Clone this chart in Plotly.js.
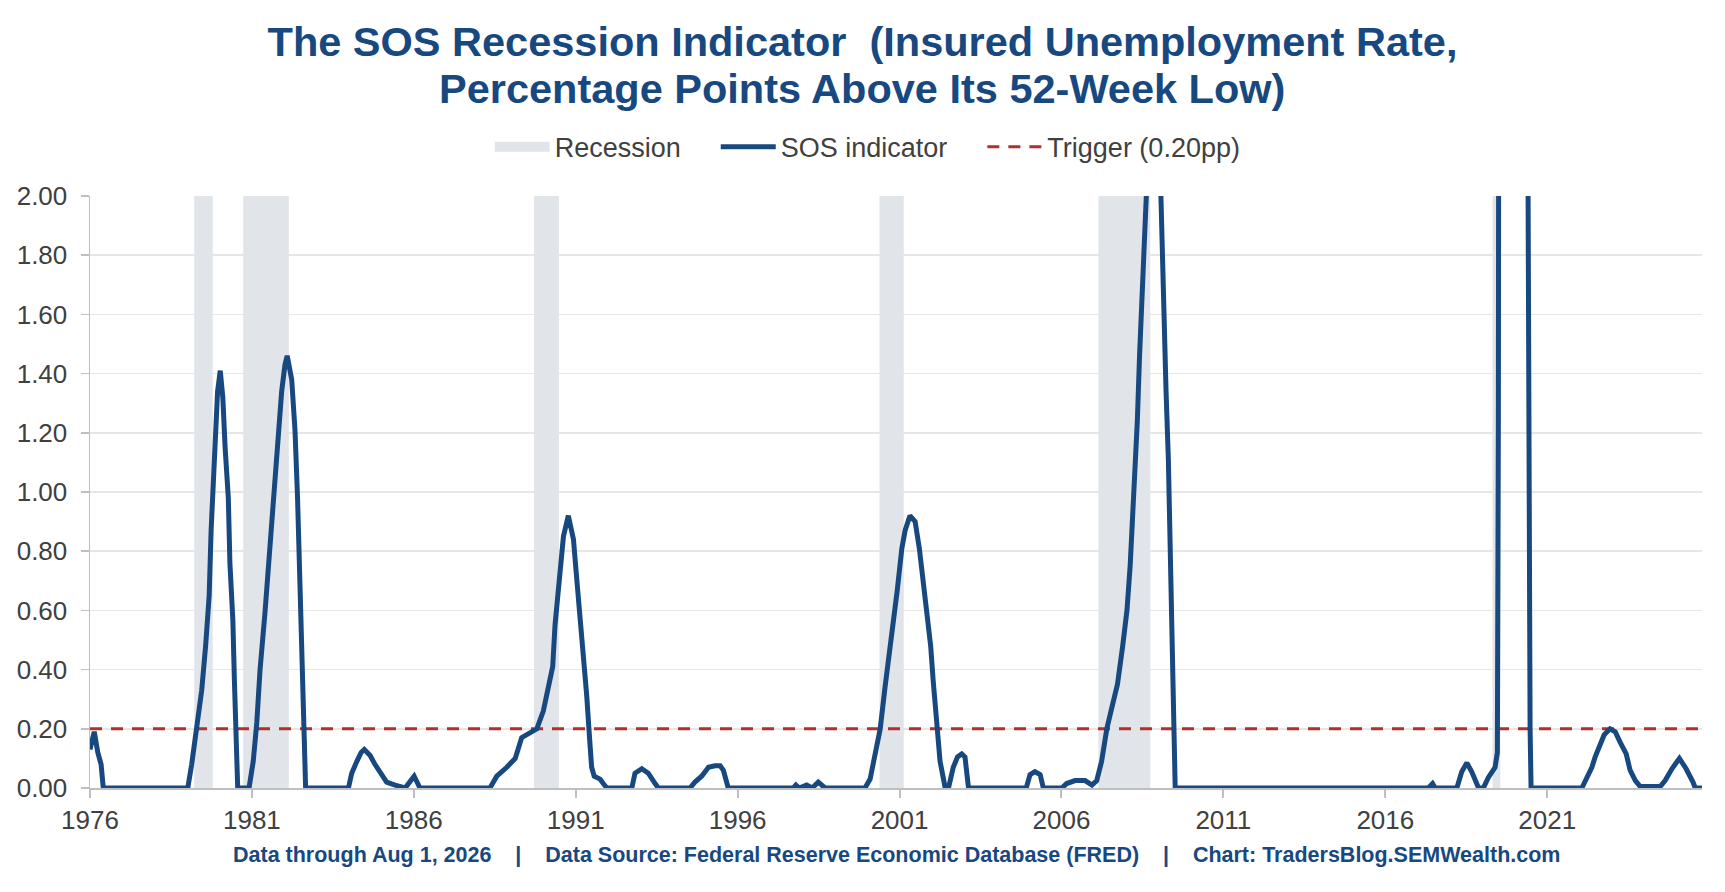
<!DOCTYPE html>
<html>
<head>
<meta charset="utf-8">
<script src="https://cdn.plot.ly/plotly-3.0.1.min.js"></script>
<style>
  html, body { margin: 0; padding: 0; background: #fff; }
  #chart { width: 1725px; height: 892px; }
</style>
</head>
<body>
<div id="chart"></div>
<script>
// SOS indicator: decimal years and percentage points above the 52-week low
var sosYear = [
    1976.80, 1976.93, 1977.04, 1977.14, 1977.21, 1979.82, 1979.94, 1980.10, 1980.25, 1980.37,
    1980.48, 1980.54, 1980.61, 1980.66, 1980.74, 1980.82, 1980.90, 1980.97, 1981.07, 1981.12,
    1981.21, 1981.26, 1981.33, 1981.36, 1981.71, 1981.84, 1981.95, 1982.05, 1982.20, 1982.33,
    1982.46, 1982.60, 1982.72, 1982.82, 1982.89, 1983.03, 1983.13, 1983.21, 1983.29, 1983.36,
    1983.42, 1983.46, 1984.78, 1984.88, 1985.04, 1985.17, 1985.27, 1985.45, 1985.60, 1985.76,
    1985.96, 1986.22, 1986.53, 1986.81, 1986.99, 1989.15, 1989.36, 1989.67, 1989.93, 1990.13,
    1990.29, 1990.49, 1990.60, 1990.80, 1990.95, 1991.09, 1991.16, 1991.23, 1991.32, 1991.42,
    1991.57, 1991.73, 1991.83, 1991.93, 1992.07, 1992.14, 1992.22, 1992.29, 1992.37, 1992.55,
    1992.65, 1992.76, 1993.53, 1993.63, 1993.84, 1994.04, 1994.25, 1994.35, 1995.33, 1995.48,
    1995.69, 1995.90, 1996.10, 1996.26, 1996.36, 1996.51, 1998.52, 1998.60, 1998.70, 1998.93,
    1999.10, 1999.29, 1999.50, 2000.73, 2000.89, 2001.07, 2001.20, 2001.35, 2001.49, 2001.61,
    2001.73, 2001.87, 2001.97, 2002.12, 2002.28, 2002.41, 2002.52, 2002.64, 2002.76, 2002.84,
    2002.95, 2003.05, 2003.21, 2003.31, 2003.46, 2003.59, 2003.72, 2003.82, 2003.93, 2005.71,
    2005.83, 2005.98, 2006.14, 2006.24, 2006.81, 2006.96, 2007.22, 2007.53, 2007.74, 2007.89,
    2008.04, 2008.20, 2008.35, 2008.53, 2008.69, 2008.82, 2008.92, 2009.00, 2009.07, 2009.14,
    2009.21, 2009.28, 2009.35, 2009.43, 2009.65, 2009.87, 2009.95, 2010.03, 2010.10, 2010.15,
    2010.21, 2010.26, 2010.31, 2018.13, 2018.26, 2018.34, 2019.01, 2019.16, 2019.32, 2019.47,
    2019.68, 2019.83, 2019.98, 2020.19, 2020.26, 2020.29, 2020.32, 2020.40, 2020.90, 2021.20,
    2021.27, 2021.30, 2022.87, 2023.02, 2023.18, 2023.28, 2023.43, 2023.56, 2023.74, 2023.90,
    2024.05, 2024.24, 2024.36, 2024.52, 2024.67, 2025.29, 2025.44, 2025.65, 2025.88, 2026.09,
    2026.30, 2026.37, 2026.58
];
var sosValue = [
    0.13, 0.19, 0.12, 0.08, 0, 0, 0.08, 0.20, 0.33, 0.48,
    0.65, 0.87, 1.07, 1.21, 1.34, 1.41, 1.32, 1.15, 0.98, 0.76,
    0.57, 0.36, 0.14, 0, 0, 0.09, 0.22, 0.40, 0.59, 0.78,
    0.98, 1.15, 1.34, 1.43, 1.46, 1.38, 1.21, 0.98, 0.70, 0.42,
    0.14, 0, 0, 0.05, 0.09, 0.12, 0.13, 0.11, 0.08, 0.05,
    0.02, 0.01, 0, 0.04, 0, 0, 0.04, 0.07, 0.10, 0.17,
    0.18, 0.19, 0.20, 0.26, 0.34, 0.41, 0.55, 0.64, 0.76, 0.85,
    0.92, 0.84, 0.71, 0.58, 0.44, 0.31, 0.18, 0.07, 0.04, 0.03,
    0.015, 0, 0, 0.05, 0.065, 0.05, 0.015, 0, 0, 0.02,
    0.04, 0.07, 0.075, 0.075, 0.06, 0, 0, 0.01, 0, 0.01,
    0, 0.02, 0, 0, 0.03, 0.12, 0.20, 0.34, 0.45, 0.57,
    0.67, 0.81, 0.87, 0.92, 0.90, 0.81, 0.71, 0.58, 0.48, 0.36,
    0.21, 0.09, 0, 0, 0.07, 0.105, 0.115, 0.105, 0, 0,
    0.045, 0.055, 0.045, 0, 0, 0.015, 0.025, 0.025, 0.01, 0.025,
    0.09, 0.20, 0.27, 0.35, 0.48, 0.60, 0.75, 0.91, 1.08, 1.24,
    1.46, 1.64, 1.80, 2.00, 2.60, 2.00, 1.60, 1.34, 1.11, 0.84,
    0.51, 0.20, 0, 0, 0.015, 0, 0, 0.055, 0.085, 0.055,
    0, 0, 0.035, 0.07, 0.12, 1.24, 2.00, 12.0, 5.0, 2.20,
    0.20, 0, 0, 0.03, 0.07, 0.105, 0.15, 0.18, 0.20, 0.19,
    0.155, 0.115, 0.06, 0.025, 0.005, 0.005, 0.025, 0.065, 0.10, 0.065,
    0.02, 0, 0
];

// recessions as shaded on the chart
var recStart = [1980.02, 1981.53, 1990.51, 2001.18, 2007.94, 2020.11];
var recEnd = [1980.59, 1982.94, 1991.28, 2001.93, 2009.54, 2020.35];

var triggerLevel = 0.20;
var yTop = 2.0;
var firstYear = 1976.80, lastYear = 2026.58;

var blue = '#17487F';

function toDate(y) {
    var yr = Math.floor(y);
    var start = Date.UTC(yr, 0, 1), end = Date.UTC(yr + 1, 0, 1);
    return new Date(start + (y - yr) * (end - start)).toISOString().slice(0, 10);
}

var nb = '\u00A0';
function pad(n) { return new Array(n + 1).join(nb); }

var recX = [], recY = [];
for (var i = 0; i < recStart.length; i++) {
    var s = toDate(recStart[i]), e = toDate(recEnd[i]);
    recX.push(s, s, e, e, s, null);
    recY.push(0, yTop, yTop, 0, 0, null);
}

var recBands = {
    type: 'scatter', mode: 'lines', x: recX, y: recY,
    fill: 'toself', fillcolor: '#E1E5EA', line: {width: 0},
    showlegend: false, hoverinfo: 'skip'
};
var recLegend = {
    type: 'scatter', mode: 'lines', x: [null], y: [null],
    name: 'Recession' + pad(4), line: {color: '#E1E5EA', width: 10}, legendrank: 1
};
var trigger = {
    type: 'scatter', mode: 'lines',
    x: [toDate(firstYear), toDate(lastYear)], y: [triggerLevel, triggerLevel],
    name: 'Trigger (0.20pp)', line: {color: '#B0302A', width: 3, dash: '12px,9px'},
    legendrank: 3
};
var sos = {
    type: 'scatter', mode: 'lines',
    x: sosYear.map(toDate), y: sosValue,
    name: 'SOS indicator' + pad(4), line: {color: blue, width: 5}, legendrank: 2
};

// the second title line sits closer than Plotly's <br> spacing, so it is its own annotation
var titleFont = {family: 'Liberation Sans, Arial, sans-serif', size: 41.5, color: blue, weight: 700};

var layout = {
    width: 1725, height: 892,
    margin: {l: 90, r: 23, t: 196, b: 104, pad: 0},
    paper_bgcolor: '#fff', plot_bgcolor: '#fff',
    font: {family: 'Liberation Sans, Arial, sans-serif', color: '#404040'},
    title: {
        text: 'The SOS Recession Indicator ' + nb + '(Insured Unemployment Rate,',
        font: titleFont,
        x: 0.5, xanchor: 'center', xref: 'container',
        y: 0.953, yanchor: 'middle', yref: 'container'
    },
    showlegend: true,
    legend: {
        orientation: 'h', xref: 'container', yref: 'container',
        x: 0.503, xanchor: 'center', y: 0.835, yanchor: 'middle',
        itemwidth: 55,
        font: {size: 27, color: '#404040'}, bgcolor: 'rgba(0,0,0,0)'
    },
    xaxis: {
        type: 'date',
        range: [toDate(firstYear), toDate(lastYear)],
        tick0: toDate(firstYear), dtick: 'M60', tickformat: '%Y',
        showgrid: false, zeroline: false,
        showline: true, linecolor: '#BFBFBF', linewidth: 2,
        ticks: 'outside', ticklen: 8, tickwidth: 2, tickcolor: '#BFBFBF',
        tickfont: {size: 26, color: '#404040'}
    },
    yaxis: {
        range: [0, yTop], tick0: 0, dtick: 0.2, tickformat: '.2f',
        showgrid: true, gridcolor: '#E6E6E6', gridwidth: 1.5, zeroline: false,
        showline: true, linecolor: '#BFBFBF', linewidth: 1.5,
        ticks: 'outside', ticklen: 8, tickwidth: 1.5, tickcolor: '#BFBFBF',
        ticklabelstandoff: 8,
        tickfont: {size: 26, color: '#404040'}
    },
    annotations: [{
        xref: 'paper', yref: 'paper', x: 0.4792, y: 1.1824,
        xanchor: 'center', yanchor: 'middle', showarrow: false,
        text: 'Percentage Points Above Its 52-Week Low)',
        font: titleFont
    }, {
        xref: 'paper', yref: 'paper', x: 0.5, y: -0.114,
        xanchor: 'center', yanchor: 'middle', showarrow: false,
        text: 'Data through Aug 1, 2026' + pad(4) + '|' + pad(4) +
              'Data Source: Federal Reserve Economic Database (FRED)' + pad(4) + '|' + pad(4) +
              'Chart: TradersBlog.SEMWealth.com',
        font: {size: 21.5, color: blue, weight: 700}
    }]
};

Plotly.newPlot('chart', [recBands, recLegend, trigger, sos], layout, {displayModeBar: false, staticPlot: true});
</script>
</body>
</html>
